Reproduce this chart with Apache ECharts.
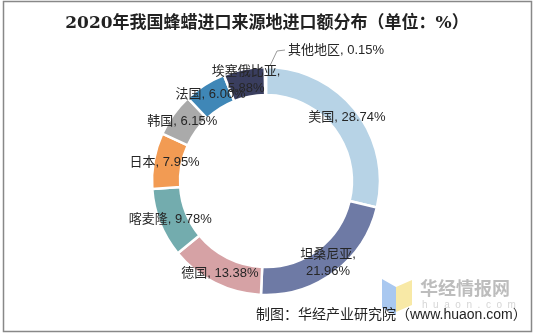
<!DOCTYPE html>
<html>
<head>
<meta charset="utf-8">
<script src="https://cdn.jsdelivr.net/npm/echarts@6/dist/echarts.min.js"></script>
<style>
html,body{margin:0;padding:0;background:#fff;}
#c{width:535px;height:336px;}
</style>
</head>
<body>
<div id="c"></div>
<script>
var categories = ['美国', '坦桑尼亚', '德国', '喀麦隆', '日本', '韩国', '法国', '埃塞俄比亚', '其他地区'];
var values = [28.74, 21.96, 13.38, 9.78, 7.95, 6.15, 6.00, 5.88, 0.15];
var colors = ['#b7d3e6', '#6e7aa5', '#d6a2a5', '#73acae', '#f29b53', '#aaaaaa', '#3f87b7', '#3a3e5f', '#7aa2c9'];
var titleText = '2020年我国蜂蜡进口来源地进口额分布（单位：%）';
var sourceText = '制图：华经产业研究院（www.huaon.com）';

var chart = echarts.init(document.getElementById('c'), null, {renderer: 'canvas'});
var data = categories.map(function (c, i) {
  var item = {name: c, value: values[i], itemStyle: {color: colors[i]}};
  if (i === categories.length - 1) {
    item.label = {position: 'outside'};
    item.labelLine = {show: true};
  }
  return item;
});
function fmt(p) {
  var v = p.value.toFixed(2) + '%';
  if (p.name === '坦桑尼亚' || p.name === '埃塞俄比亚') return p.name + ',\n' + v;
  return p.name + ', ' + v;
}
chart.setOption({
  animation: false,
  title: {
    text: titleText,
    left: 262, top: 10, textAlign: 'center',
    textStyle: {fontFamily: '"DejaVu Serif", "Noto Sans CJK SC", serif', fontWeight: 'bold', fontSize: 17, color: '#222'}
  },
  graphic: [
    {type: 'rect', shape: {x: 3.5, y: 1.5, width: 528, height: 330}, style: {fill: 'none', stroke: '#888', lineWidth: 1.5}, z: 100},
    {type: 'polygon', shape: {points: [[382, 279], [396, 287], [396, 315], [382, 308]]}, style: {fill: '#a9c8f0'}, z: 1},
    {type: 'polygon', shape: {points: [[396, 287], [412, 280], [412, 305], [396, 312]]}, style: {fill: '#f8e9a6'}, z: 1},
    {type: 'text', left: 420, top: 279, style: {text: '华经情报网', fill: '#bdbdbd', font: 'bold 18px "Noto Sans CJK SC", sans-serif'}, z: 1},
    {type: 'text', left: 422, top: 300, style: {text: 'h  u  a  o  n  .  c  o  m', fill: '#d6d6d6', font: '10px "Liberation Sans", sans-serif'}, z: 1},
    {type: 'text', left: 256, top: 308, style: {text: sourceText, fill: '#222', font: '14px "Liberation Sans", "Noto Sans CJK SC", sans-serif'}, z: 10}
  ],
  series: [{
    type: 'pie',
    center: [266, 181],
    radius: [86, 114],
    startAngle: 90,
    clockwise: true,
    avoidLabelOverlap: false,
    itemStyle: {borderColor: '#fff', borderWidth: 2.5},
    label: {
      show: true,
      position: 'inside',
      formatter: fmt,
      color: '#262626',
      fontSize: 13,
      lineHeight: 17,
      fontFamily: '"Liberation Sans", "Noto Sans CJK SC", sans-serif'
    },
    labelLine: {show: false, lineStyle: {color: '#999', width: 1}},
    labelLayout: function (p) {
      if (p.dataIndex === categories.length - 1) {
        return {x: 288, y: 50, align: 'left', verticalAlign: 'middle',
          labelLinePoints: [[268, 70], [277, 51], [285, 50]]};
      }
    },
    data: data
  }]
});
</script>
</body>
</html>
